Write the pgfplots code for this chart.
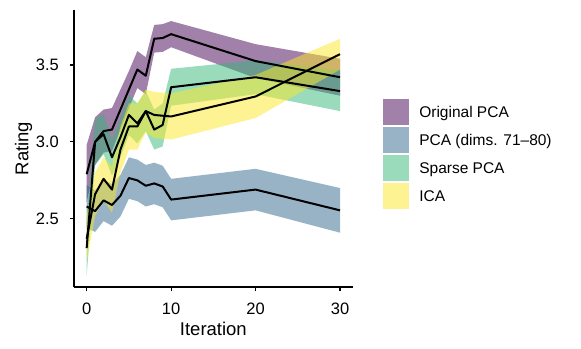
\documentclass[border=0pt]{standalone}
\usepackage{fontspec}
\setmainfont{Liberation Sans}
\usepackage{pgfplots}
\usepackage{pgfplotstable}
\pgfplotsset{compat=1.18}
\usepgfplotslibrary{fillbetween}

\definecolor{cOrig}{HTML}{440154}
\definecolor{cDims}{HTML}{31688E}
\definecolor{cSparse}{HTML}{35B779}
\definecolor{cICA}{HTML}{FDE725}

% mean rating with lower/upper band, per iteration
\pgfplotstableread{
x m lo hi
0 2.79 2.61 2.98
1 3.00 2.85 3.16
2 3.07 2.93 3.21
3 3.08 2.94 3.22
4 3.21 3.08 3.34
5 3.34 3.22 3.46
6 3.47 3.35 3.59
7 3.43 3.31 3.55
8 3.67 3.58 3.76
9 3.675 3.585 3.765
10 3.70 3.615 3.785
20 3.525 3.415 3.635
30 3.42 3.30 3.54
}\orig
\pgfplotstableread{
x m lo hi
0 2.58 2.44 2.72
1 2.55 2.415 2.685
2 2.62 2.485 2.755
3 2.59 2.455 2.725
4 2.65 2.515 2.785
5 2.765 2.63 2.90
6 2.75 2.615 2.885
7 2.715 2.58 2.85
8 2.73 2.595 2.865
9 2.71 2.575 2.845
10 2.625 2.49 2.76
20 2.69 2.555 2.825
30 2.555 2.41 2.70
}\dims
\pgfplotstableread{
x m lo hi
0 2.31 2.13 2.49
1 3.00 2.85 3.15
2 3.05 2.92 3.18
3 2.90 2.78 3.02
4 3.03 2.90 3.16
5 3.175 3.045 3.305
6 3.12 2.99 3.25
7 3.20 3.07 3.33
8 3.08 2.95 3.21
9 3.11 2.97 3.25
10 3.355 3.235 3.475
20 3.42 3.31 3.53
30 3.33 3.20 3.465
}\sparse
\pgfplotstableread{
x m lo hi
0 2.37 2.22 2.52
1 2.66 2.52 2.80
2 2.76 2.62 2.90
3 2.69 2.54 2.84
4 2.95 2.80 3.10
5 3.10 2.95 3.25
6 3.10 2.95 3.25
7 3.20 3.06 3.34
8 3.175 3.025 3.325
9 3.17 3.02 3.32
10 3.165 3.015 3.315
20 3.295 3.155 3.435
30 3.57 3.47 3.67
}\ica

\begin{document}
\begin{tikzpicture}
\begin{axis}[
    at={(74bp,62bp)}, anchor=south west,
    scale only axis,
    width=278.7bp, height=277bp,
    xmin=-1.5, xmax=31.5,
    ymin=2.057, ymax=3.857,
    axis lines=left,
    axis line style={-, line width=1.2bp, black},
    xtick={0,10,20,30},
    ytick={2.5,3.0,3.5},
    tick align=outside,
    major tick length=4.5bp,
    tick style={black, line width=1.2bp},
    /pgf/number format/assume math mode=true,
    tick label style={font=\fontsize{16.5bp}{18bp}\selectfont, inner sep=0pt},
    yticklabel style={/pgf/number format/.cd, fixed, fixed zerofill, precision=1},
    xticklabel shift=11bp,
    yticklabel shift=10.5bp,
    label style={font=\fontsize{18.5bp}{22bp}\selectfont},
    xlabel={Iteration},
    ylabel={Rating},
    xlabel style={at={(axis description cs:0.5,0)}, anchor=base, yshift=-48bp},
    ylabel style={at={(axis description cs:-0.164,0.5)}, anchor=base},
    legend cell align=left,
    legend image code/.code={\fill[#1] (0bp,-12.75bp) rectangle (25.5bp,12.75bp); \path (36bp,0bp);},
    legend style={at={(axis description cs:1.1098,0.6776)}, anchor=north west,
        draw=none, fill=none, inner sep=0pt, outer sep=0pt,
        row sep=2.5bp, column sep=0pt,
        font=\fontsize{15.5bp}{18bp}\selectfont,
        nodes={inner sep=0pt, text height=11.2bp, text depth=0pt}},
]
% ribbons
\addplot[draw=none, name path=oh, forget plot] table[x=x, y=hi] {\orig};
\addplot[draw=none, name path=ol, forget plot] table[x=x, y=lo] {\orig};
\addplot[fill=cOrig, fill opacity=0.5, draw=none, forget plot] fill between[of=oh and ol];
\addplot[draw=none, name path=dh, forget plot] table[x=x, y=hi] {\dims};
\addplot[draw=none, name path=dl, forget plot] table[x=x, y=lo] {\dims};
\addplot[fill=cDims, fill opacity=0.5, draw=none, forget plot] fill between[of=dh and dl];
\addplot[draw=none, name path=sh, forget plot] table[x=x, y=hi] {\sparse};
\addplot[draw=none, name path=sl, forget plot] table[x=x, y=lo] {\sparse};
\addplot[fill=cSparse, fill opacity=0.5, draw=none, forget plot] fill between[of=sh and sl];
\addplot[draw=none, name path=ih, forget plot] table[x=x, y=hi] {\ica};
\addplot[draw=none, name path=il, forget plot] table[x=x, y=lo] {\ica};
\addplot[fill=cICA, fill opacity=0.5, draw=none, forget plot] fill between[of=ih and il];
% mean lines
\addplot[black, line width=2bp, line join=round, forget plot] table[x=x, y=m] {\orig};
\addplot[black, line width=2bp, line join=round, forget plot] table[x=x, y=m] {\dims};
\addplot[black, line width=2bp, line join=round, forget plot] table[x=x, y=m] {\sparse};
\addplot[black, line width=2bp, line join=round, forget plot] table[x=x, y=m] {\ica};
% legend keys
\addlegendimage{fill=cOrig, fill opacity=0.5, draw=none}
\addlegendentry{Original PCA}
\addlegendimage{fill=cDims, fill opacity=0.5, draw=none}
\addlegendentry{PCA (dims. 71--80)}
\addlegendimage{fill=cSparse, fill opacity=0.5, draw=none}
\addlegendentry{Sparse PCA}
\addlegendimage{fill=cICA, fill opacity=0.5, draw=none}
\addlegendentry{ICA}
\end{axis}
\path (0,0) rectangle (581bp,349bp);
\end{tikzpicture}
\end{document}
